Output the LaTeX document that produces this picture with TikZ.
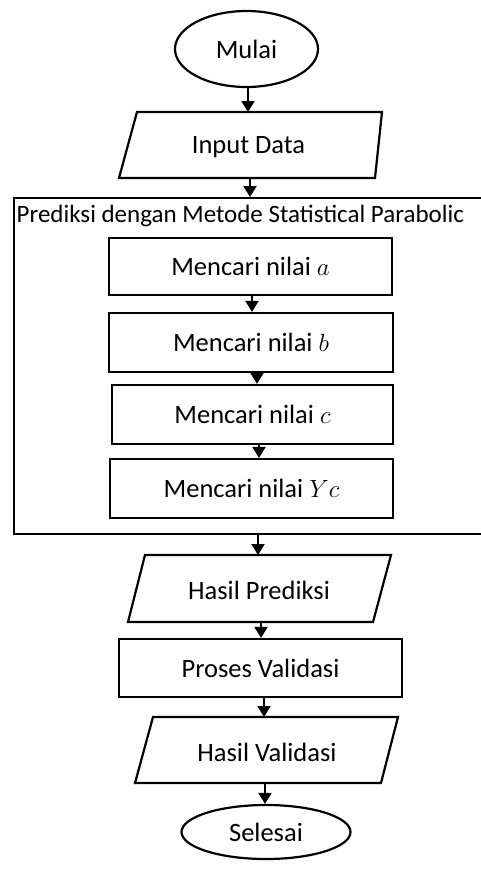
\documentclass[tikz,border=0pt]{standalone}
\usepackage{fontspec}
\setmainfont{Carlito}
\usetikzlibrary{shapes.geometric,arrows.meta}
\tikzset{
  shp/.style={draw=black, line width=2.2pt, line join=miter},
  boxn/.style={shp, rectangle, inner sep=0pt, minimum width=283pt, minimum height=58pt, font=\fontsize{26.5}{30}\selectfont},
  term/.style={shp, ellipse, inner sep=0pt, font=\fontsize{26.5}{30}\selectfont},
  lbl/.style={inner sep=0pt, font=\fontsize{26.5}{30}\selectfont},
  arr/.style={line width=2pt, -{Triangle[width=13pt,length=11pt]}},
}
\begin{document}
\begin{tikzpicture}[x=1pt,y=-1pt]
\useasboundingbox (0,0) rectangle (481,873);
% terminals
\node[term, minimum width=143pt, minimum height=76pt] (mulai) at (246.5,49) {Mulai};
\node[term, minimum width=169pt, minimum height=54pt] (selesai) at (266,832) {Selesai};
% Input Data
\draw[shp] (137,112) coordinate (inT) -- (382,112) -- (375,178) -- (119,178) coordinate (inB) -- cycle;
\node[lbl] (input) at (248.5,147) {Input Data};
% outer container
\node[shp, rectangle, inner sep=0pt, minimum width=480pt, minimum height=336pt, anchor=north west] (outer) at (13,197) {};
\node[lbl, anchor=west, font=\fontsize{25}{28}\selectfont] (title) at (16.5,216) {Prediksi dengan Metode Statistical Parabolic};
% inner boxes
\node[boxn, minimum width=283pt, minimum height=57pt] (ba) at (250.5,266.5) {Mencari nilai $a$};
\node[boxn, minimum width=284pt, minimum height=59pt] (bb) at (251,342.5) {Mencari nilai $b$};
\node[boxn, minimum width=281pt, minimum height=59pt] (bc) at (252.5,414.5) {Mencari nilai $c$};
\node[boxn, minimum width=283pt, minimum height=59pt] (byc) at (251.5,488.5) {Mencari nilai $Yc$};
% Hasil Prediksi
\draw[shp] (145,555) -- (391,555) -- (373,622) -- (128,622) -- cycle;
\node[lbl] (hp) at (259,590) {Hasil Prediksi};
% Proses Validasi
\node[boxn, minimum width=283pt, minimum height=58pt] (pv) at (260.5,668) {Proses Validasi};
% Hasil Validasi
\draw[shp] (153,717) -- (398,717) -- (381,783) -- (135,783) -- cycle;
\node[lbl] (hv) at (267,752) {Hasil Validasi};
% coordinates for arrows
\coordinate (a1e) at (248,112);
\coordinate (a2s) at (250,178); \coordinate (a2e) at (250,197);
\coordinate (a6s) at (258,533); \coordinate (a6e) at (258,555);
\coordinate (a7s) at (261,622);
\coordinate (a8s) at (264,697); \coordinate (a8e) at (264,717);
\coordinate (a9s) at (265,783);
% connectors
\draw[arr] (mulai.south) ++(1.5,0) -- (a1e);
\draw[arr] (a2s) -- (a2e);
\draw[arr] ([xshift=1.5pt]ba.south) -- ([xshift=1.5pt]ba.south |- bb.north);
\draw[arr] ([xshift=6pt]bb.south) -- ([xshift=6pt]bb.south |- bc.north);
\draw[arr] ([xshift=6.5pt]bc.south) -- ([xshift=6.5pt]bc.south |- byc.north);
\draw[arr] (a6s) -- (a6e);
\draw[arr] (a7s) -- (pv.north -| a7s);
\draw[arr] (pv.south -| a8s) -- (a8e);
\draw[arr] (a9s) -- (selesai.north -| a9s);
\end{tikzpicture}
\end{document}
